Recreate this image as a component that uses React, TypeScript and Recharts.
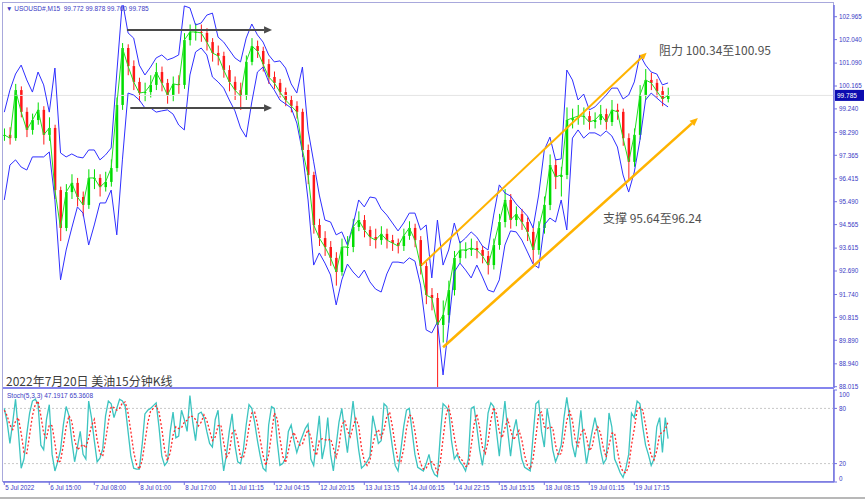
import React from 'react';
import { ComposedChart, Bar, Line, XAxis, YAxis, ReferenceLine } from 'recharts';

// USOUSD# M15, sampled every 2 hours (8 bars)
const closes = [
  98.19, 98.06, 100.0, 99.12, 98.39, 98.79, 99.2, 98.19, 98.47, 95.96,
  94.43, 95.88, 96.25, 95.68, 95.36, 96.45, 96.45, 96.08, 96.29, 96.85,
  99.4, 101.7, 100.97, 100.33, 99.88, 99.92, 100.21, 100.73, 100.29, 99.8,
  100.25, 100.21, 102.02, 102.35, 102.35, 102.31, 101.94, 101.5, 101.38, 100.81,
  100.33, 100.0, 99.76, 101.14, 101.78, 101.58, 101.05, 100.53, 100.29, 99.92,
  99.6, 99.36, 99.12, 97.58, 96.57, 94.55, 94.02, 93.66, 93.22, 92.65,
  93.66, 93.66, 94.47, 94.75, 94.35, 94.06, 93.94, 94.19, 93.94, 93.82,
  93.7, 94.11, 94.43, 93.94, 92.89, 91.72, 91.6, 90.51, 90.91, 91.92,
  93.22, 93.54, 93.54, 93.62, 93.54, 93.3, 92.93, 93.74, 94.67, 95.56,
  94.75, 94.99, 94.67, 94.27, 93.54, 94.43, 95.36, 96.97, 96.49, 96.57,
  98.79, 98.87, 98.95, 98.95, 98.71, 98.79, 99.03, 98.71, 99.2, 99.12,
  98.06, 97.1, 98.19, 99.8, 100.41, 100.29, 99.96, 99.64, 99.785,
];
const highs = [
  98.45, 98.5, 100.25, 100.15, 99.3, 99.05, 99.5, 99.35, 98.9, 98.6,
  96.1, 96.2, 96.6, 96.45, 95.9, 96.8, 96.8, 96.6, 96.7, 97.2,
  99.7, 101.9, 101.85, 101.2, 100.5, 100.3, 100.6, 101.1, 100.95, 100.45,
  100.55, 100.6, 102.3, 102.65, 102.7, 102.65, 102.5, 102.1, 101.8, 101.55,
  101.0, 100.55, 100.3, 101.4, 102.1, 102.0, 101.75, 101.25, 100.75, 100.45,
  100.1, 99.8, 99.55, 99.25, 97.8, 96.7, 94.8, 94.3, 93.9, 93.45,
  94.0, 94.1, 94.8, 95.1, 94.95, 94.5, 94.4, 94.5, 94.4, 94.15,
  94.0, 94.4, 94.7, 94.6, 94.1, 93.05, 92.0, 91.8, 91.5, 92.3,
  93.5, 93.9, 93.85, 94.0, 93.9, 93.7, 93.5, 94.0, 95.0, 96.0,
  95.8, 95.3, 95.2, 94.85, 94.45, 94.7, 95.7, 97.4, 97.2, 96.9,
  99.3, 99.25, 99.4, 99.3, 99.15, 99.1, 99.4, 99.25, 99.6, 99.45,
  99.25, 98.25, 98.45, 100.2, 100.85, 100.7, 100.45, 100.15, 100.1,
];
const lows = [
  97.95, 97.8, 97.95, 98.9, 98.1, 98.2, 98.6, 97.8, 97.95, 95.6,
  93.9, 94.3, 95.6, 95.3, 94.9, 95.2, 96.0, 95.7, 95.9, 96.1,
  96.7, 99.2, 100.6, 100.0, 99.55, 99.55, 99.7, 100.0, 99.95, 99.45,
  99.55, 99.85, 100.05, 101.8, 102.0, 101.95, 101.6, 101.15, 101.0, 100.5,
  99.95, 99.6, 99.2, 99.6, 101.0, 101.3, 100.75, 100.25, 100.05, 99.7,
  99.35, 99.1, 98.85, 97.3, 96.2, 94.2, 93.7, 93.3, 92.9, 92.1,
  92.5, 93.3, 93.45, 94.3, 94.05, 93.7, 93.6, 93.75, 93.6, 93.5,
  93.4, 93.5, 93.95, 93.65, 92.55, 91.35, 91.1, 88.0, 89.8, 90.6,
  91.7, 93.0, 93.2, 93.3, 93.2, 93.0, 92.55, 92.75, 93.55, 94.45,
  94.4, 94.5, 94.35, 93.9, 93.0, 93.35, 94.2, 95.15, 96.0, 95.7,
  96.4, 98.45, 98.6, 98.6, 98.4, 98.45, 98.6, 98.4, 98.55, 98.8,
  97.75, 96.4, 96.9, 98.0, 99.6, 100.0, 99.7, 99.35, 99.5,
];
const upperBand = [
  99.11, 100.0, 100.65, 101.01, 100.41, 99.92, 100.73, 100.21, 99.11, 100.89,
  97.46, 97.3, 97.42, 97.3, 97.26, 97.58, 97.58, 97.18, 97.38, 97.66,
  100.69, 103.6, 102.31, 102.1, 101.01, 100.61, 100.93, 101.3, 101.42, 101.22,
  101.3, 101.42, 103.4, 103.32, 102.63, 102.71, 103.03, 103.11, 102.14, 101.94,
  101.62, 101.3, 101.14, 102.1, 102.67, 102.23, 101.94, 101.42, 101.14, 101.18,
  100.89, 100.25, 99.88, 100.93, 98.39, 97.1, 95.76, 94.75, 94.67, 94.15,
  94.27, 93.74, 94.55, 95.56, 95.28, 95.68, 95.64, 95.2, 94.95, 94.63,
  94.31, 94.63, 95.03, 95.03, 94.35, 94.55, 92.41, 94.75, 92.93, 93.54,
  94.63, 93.82, 94.02, 94.27, 94.06, 93.7, 93.54, 94.95, 96.17, 95.84,
  95.72, 95.4, 95.16, 94.91, 94.43, 95.76, 97.58, 98.1, 97.18, 97.22,
  100.81, 100.41, 99.6, 99.84, 99.2, 99.32, 99.56, 99.8, 100.08, 100.08,
  99.64, 99.8, 100.33, 101.42, 101.01, 100.73, 100.65, 100.21, 100.29,
];
const lowerBand = [
  95.56, 96.97, 97.18, 96.89, 96.77, 97.3, 97.3, 97.3, 97.5, 95.56,
  92.33, 93.54, 94.43, 95.28, 95.03, 93.74, 94.55, 95.44, 95.44, 95.96,
  94.15, 97.18, 99.88, 99.8, 99.6, 99.28, 99.28, 99.11, 99.16, 99.2,
  99.03, 98.59, 98.39, 100.61, 101.54, 101.7, 101.42, 100.53, 100.33, 100.08,
  99.6, 99.16, 98.47, 98.1, 99.52, 100.73, 100.93, 100.33, 100.0, 99.6,
  99.44, 99.28, 98.67, 97.5, 95.56, 92.93, 93.42, 93.01, 92.53, 91.32,
  92.33, 92.97, 92.65, 92.41, 92.73, 92.25, 91.96, 91.84, 92.57, 93.05,
  93.05, 93.01, 93.22, 93.09, 92.12, 90.31, 90.19, 90.63, 88.49, 90.51,
  92.65, 93.01, 92.73, 92.41, 92.93, 92.45, 91.92, 91.84, 92.33, 93.74,
  94.31, 94.27, 93.94, 93.46, 92.97, 92.81, 94.55, 94.83, 94.67, 95.56,
  94.35, 98.06, 98.39, 98.06, 98.27, 98.27, 98.15, 98.35, 98.15, 97.7,
  96.57, 95.88, 96.69, 97.98, 99.6, 99.88, 99.68, 99.48, 99.32,
];

// Stochastic (5,3,3), sampled every hour (4 bars)
const stochMain = [
  80, 65, 42, 65, 90, 55, 15, 25, 52, 75, 88, 90, 85, 40, 35, 68, 84, 30, 12, 22,
  35, 62, 82, 72, 45, 22, 38, 55, 30, 25, 88, 70, 45, 22, 26, 36, 72, 88, 85, 70,
  80, 90, 88, 82, 55, 28, 15, 14, 14, 40, 74, 78, 80, 83, 86, 60, 28, 18, 22, 55,
  76, 48, 50, 78, 68, 55, 94, 65, 45, 74, 76, 70, 55, 42, 38, 68, 78, 40, 12, 30,
  55, 74, 40, 22, 20, 35, 62, 84, 80, 65, 45, 28, 15, 12, 62, 82, 80, 45, 18, 20,
  26, 55, 62, 45, 32, 42, 50, 58, 63, 25, 18, 45, 72, 25, 40, 70, 30, 12, 40, 65,
  80, 55, 32, 60, 88, 60, 35, 15, 18, 22, 28, 72, 58, 42, 45, 85, 82, 60, 38, 18,
  12, 35, 60, 78, 80, 55, 30, 16, 14, 12, 20, 30, 15, 8, 6, 50, 85, 82, 78, 45,
  25, 30, 22, 18, 12, 25, 80, 82, 60, 35, 18, 40, 75, 86, 82, 55, 28, 60, 88, 55,
  28, 55, 68, 45, 25, 16, 14, 12, 50, 85, 88, 55, 38, 80, 62, 35, 22, 30, 40, 70,
  92, 70, 40, 27, 50, 78, 45, 20, 38, 55, 70, 55, 35, 20, 25, 75, 60, 25, 18, 10,
  5, 15, 30, 75, 70, 88, 85, 60, 40, 30, 18, 25, 60, 70, 32, 70, 47.19,
];
const stochSignal = [
  78, 72, 62, 57, 66, 70, 53, 32, 31, 51, 72, 84, 88, 72, 53, 48, 62, 61, 42, 21,
  23, 40, 60, 72, 66, 46, 35, 38, 41, 37, 48, 61, 68, 46, 31, 28, 45, 65, 82, 81,
  78, 80, 86, 87, 75, 55, 33, 19, 14, 23, 43, 64, 77, 80, 83, 76, 58, 35, 23, 32,
  51, 60, 58, 59, 65, 67, 72, 71, 68, 61, 65, 73, 67, 56, 45, 49, 61, 62, 43, 27,
  32, 53, 56, 45, 27, 26, 39, 60, 75, 76, 63, 46, 29, 18, 30, 52, 75, 69, 48, 28,
  21, 34, 48, 54, 46, 40, 41, 50, 57, 49, 35, 29, 45, 47, 46, 45, 47, 37, 27, 39,
  62, 67, 56, 49, 60, 69, 61, 37, 23, 18, 23, 41, 53, 57, 48, 57, 71, 76, 60, 39,
  23, 22, 36, 58, 73, 71, 55, 34, 20, 14, 15, 21, 22, 18, 10, 21, 47, 72, 82, 68,
  49, 33, 26, 23, 17, 18, 39, 62, 74, 59, 38, 31, 44, 67, 81, 74, 55, 48, 59, 68,
  57, 46, 50, 56, 46, 29, 18, 14, 25, 49, 74, 76, 60, 58, 60, 59, 40, 29, 31, 47,
  67, 77, 67, 46, 39, 52, 58, 48, 34, 38, 54, 60, 53, 37, 27, 40, 53, 53, 34, 18,
  11, 10, 17, 40, 58, 78, 81, 78, 62, 43, 29, 24, 34, 52, 54, 57, 65.36,
];

const timeLabels = [
  '5 Jul 2022', '6 Jul 15:00', '7 Jul 08:00', '8 Jul 01:00', '8 Jul 17:00',
  '11 Jul 11:15', '12 Jul 04:15', '12 Jul 20:15', '13 Jul 13:15', '14 Jul 06:15',
  '14 Jul 22:15', '15 Jul 15:15', '18 Jul 08:15', '19 Jul 01:15', '19 Jul 17:15',
];
const priceTicks = [
  102.965, 102.04, 101.09, 100.165, 99.24, 98.29, 97.365, 96.415, 95.49,
  94.565, 93.615, 92.69, 91.74, 90.815, 89.89, 88.94, 88.015,
];
const stochTicks = [0, 20, 80, 100];
const headerQuote = [99.772, 99.878, 99.76, 99.785];
const stochHeader = [47.1917, 65.3608];

// drawn objects: [index, price] pairs
const rangeTop = [[21.8, 102.43], [47.6, 102.43]];
const rangeBottom = [[22.4, 99.28], [47.6, 99.28]];
const channelTop = [[74.2, 92.93], [114.2, 101.51]];
const channelBottom = [[78.0, 89.61], [123.3, 98.87]];

const LABEL_EVERY = 8;
const X_DOMAIN: [number, number] = [-0.23, 147.5];
const AXIS = '#7272e2';
const TXT = '#3a3ac4';
const FONT = '"Liberation Sans", Arial, sans-serif';
const CJK = '"Noto Sans CJK SC", "Noto Sans", sans-serif';

const priceData = closes.map((c, i) => ({
  i,
  open: i === 0 ? c : closes[i - 1],
  close: c,
  range: [lows[i], highs[i]],
  up: upperBand[i],
  lo: lowerBand[i],
}));

const stochData = stochMain.map((m, j) => ({ x: j / 2, main: m, signal: stochSignal[j] }));

const Candle = (props: any) => {
  const { x, y, width, height, payload } = props;
  if (!payload) return null;
  const [lo, hi] = payload.range;
  const top = Math.min(y, y + height);
  const bottom = Math.max(y, y + height);
  const k = (bottom - top) / (hi - lo || 1);
  const yO = top + (hi - payload.open) * k;
  const yC = top + (hi - payload.close) * k;
  const cx = x + width / 2;
  const col = payload.close >= payload.open ? '#00dd00' : '#ff1818';
  return (
    <g>
      <line x1={cx} x2={cx} y1={top} y2={bottom} stroke={col} strokeWidth={1} />
      <rect x={cx - 1.25} y={Math.min(yO, yC)} width={2.5} height={Math.max(1, Math.abs(yC - yO))} fill={col} />
    </g>
  );
};

const arrowShape = (color: string, w: number, head: number) => (p: any) => {
  const { x1, y1, x2, y2 } = p;
  if (x1 == null) return null;
  const a = Math.atan2(y2 - y1, x2 - x1);
  const bx = x2 - head * Math.cos(a);
  const by = y2 - head * Math.sin(a);
  const hw = head * 0.45;
  const pts = [
    [x2, y2],
    [bx + hw * Math.sin(a), by - hw * Math.cos(a)],
    [bx - hw * Math.sin(a), by + hw * Math.cos(a)],
  ].map((q) => q.join(',')).join(' ');
  return (
    <g>
      <line x1={x1} y1={y1} x2={bx} y2={by} stroke={color} strokeWidth={w} />
      <polygon points={pts} fill={color} />
    </g>
  );
};

const seg = (s: number[][]) => s.map(([x, y]) => ({ x, y }));

const BidLabel = (p: any) => {
  const vb = p.viewBox;
  if (!vb) return null;
  const x = vb.x + vb.width + 1;
  return (
    <g>
      <rect x={x} y={vb.y - 5.5} width={29} height={11} fill="#0c0cb0" />
      <text x={x + 2} y={vb.y + 2.4} fontSize={6.5} fill="#fff" fontFamily={FONT}>
        {headerQuote[3].toFixed(3)}
      </text>
    </g>
  );
};

const StochTick = (p: any) => {
  const v = p.payload.value;
  const dy = v === 100 ? 5 : v === 0 ? -3 : 0;
  return (
    <text x={p.x} y={p.y + dy} dy={2.3} fontSize={6.3} fill={TXT} fontFamily={FONT} textAnchor="start">
      {v}
    </text>
  );
};

const TimeTick = (p: any) => {
  const idx = Math.round(p.payload.value / LABEL_EVERY);
  return (
    <text x={p.x + 1} y={p.y + 4} fontSize={6.3} fill={TXT} fontFamily={FONT} textAnchor="start">
      {timeLabels[idx]}
    </text>
  );
};

export default function App() {
  return (
    <div style={{ position: 'absolute', left: 0, top: 0, width: 865, height: 499, background: '#fff', overflow: 'hidden', fontFamily: FONT }}>
      {/* plot frame */}
      <div style={{ position: 'absolute', left: 2, top: 2, width: 832, height: 480, border: '1px solid #a8a8dc', boxSizing: 'border-box' }} />
      <div style={{ position: 'absolute', left: 0, top: 497, width: 865, height: 2, background: '#b8b8b8' }} />

      <div style={{ position: 'absolute', left: 0, top: 0 }}>
        <ComposedChart width={865} height={395} data={priceData} margin={{ top: 5, right: 0, bottom: 7, left: 3 }}>
          <XAxis type="number" dataKey="i" domain={X_DOMAIN} allowDataOverflow hide />
          <YAxis
            orientation="right"
            width={31}
            domain={[87.963, 103.438]}
            allowDataOverflow
            ticks={priceTicks}
            interval={0}
            tickFormatter={(v: number) => v.toFixed(3)}
            tick={{ fontSize: 6.3, fill: TXT, fontFamily: FONT }}
            tickSize={3}
            tickMargin={2}
            axisLine={{ stroke: AXIS, strokeWidth: 1.5 }}
            tickLine={{ stroke: AXIS }}
          />
          <ReferenceLine y={headerQuote[3]} stroke="#e4e4e4" strokeWidth={1} label={<BidLabel />} />
          <Line dataKey="up" type="linear" stroke="#2f2fff" strokeWidth={1} dot={false} isAnimationActive={false} />
          <Line dataKey="lo" type="linear" stroke="#2f2fff" strokeWidth={1} dot={false} isAnimationActive={false} />
          <Line dataKey="close" type="linear" stroke="#22e022" strokeWidth={1} dot={false} isAnimationActive={false} />
          <Bar dataKey="range" barSize={4} shape={<Candle />} isAnimationActive={false} />
          <ReferenceLine segment={seg(rangeTop)} shape={arrowShape('#4a4a4a', 2, 8)} />
          <ReferenceLine segment={seg(rangeBottom)} shape={arrowShape('#4a4a4a', 2, 8)} />
          <ReferenceLine segment={seg(channelTop)} shape={arrowShape('#ffb300', 2, 7)} />
          <ReferenceLine segment={seg(channelBottom)} shape={arrowShape('#ffb300', 2.6, 8)} ifOverflow="visible" />
        </ComposedChart>
      </div>

      <div style={{ position: 'absolute', left: 3, top: 387, width: 831, height: 2, background: '#8585ee' }} />

      <div style={{ position: 'absolute', left: 0, top: 388 }}>
        <ComposedChart width={865} height={111} data={stochData} margin={{ top: 2, right: 0, bottom: 0, left: 3 }}>
          <XAxis
            type="number"
            dataKey="x"
            domain={X_DOMAIN}
            allowDataOverflow
            ticks={timeLabels.map((_, k) => k * LABEL_EVERY)}
            interval={0}
            height={17}
            tick={<TimeTick />}
            tickSize={3}
            tickMargin={1}
            axisLine={{ stroke: AXIS, strokeWidth: 1.5 }}
            tickLine={{ stroke: AXIS }}
          />
          <YAxis
            orientation="right"
            width={31}
            domain={[0, 100]}
            ticks={stochTicks}
            interval={0}
            tick={<StochTick />}
            tickSize={3}
            tickMargin={2}
            axisLine={{ stroke: AXIS, strokeWidth: 1.5 }}
            tickLine={{ stroke: AXIS }}
          />
          <ReferenceLine y={80} stroke="#c8c8c8" strokeDasharray="2 2" />
          <ReferenceLine y={20} stroke="#c8c8c8" strokeDasharray="2 2" />
          <Line dataKey="main" type="linear" stroke="#3cc4c0" strokeWidth={1.3} dot={false} isAnimationActive={false} />
          <Line dataKey="signal" type="linear" stroke="#ff2a2a" strokeWidth={1.3} strokeDasharray="2 2" dot={false} isAnimationActive={false} />
        </ComposedChart>
      </div>

      {/* texts */}
      <div style={{ position: 'absolute', left: 6, top: 5, fontSize: 6.5, color: TXT, whiteSpace: 'pre', lineHeight: '8px' }}>
        {'▼ USOUSD#,M15  ' + headerQuote.map((v) => v.toFixed(3)).join(' ')}
      </div>
      <div style={{ position: 'absolute', left: 7, top: 392, fontSize: 6.5, color: TXT, whiteSpace: 'pre', lineHeight: '8px' }}>
        {'Stoch(5,3,3) ' + stochHeader.map((v) => v.toFixed(4)).join(' ')}
      </div>
      <div style={{ position: 'absolute', left: 6, top: 373, fontSize: 12, color: '#3c3c3c', fontFamily: CJK, lineHeight: '16px', whiteSpace: 'nowrap' }}>
        2022年7月20日 美油15分钟K线
      </div>
      <div style={{ position: 'absolute', left: 659, top: 42, fontSize: 12, color: '#505050', fontFamily: CJK, lineHeight: '16px', whiteSpace: 'nowrap' }}>
        阻力 100.34至100.95
      </div>
      <div style={{ position: 'absolute', left: 603, top: 210, fontSize: 12, color: '#505050', fontFamily: CJK, lineHeight: '16px', whiteSpace: 'nowrap' }}>
        支撑 95.64至96.24
      </div>
    </div>
  );
}
